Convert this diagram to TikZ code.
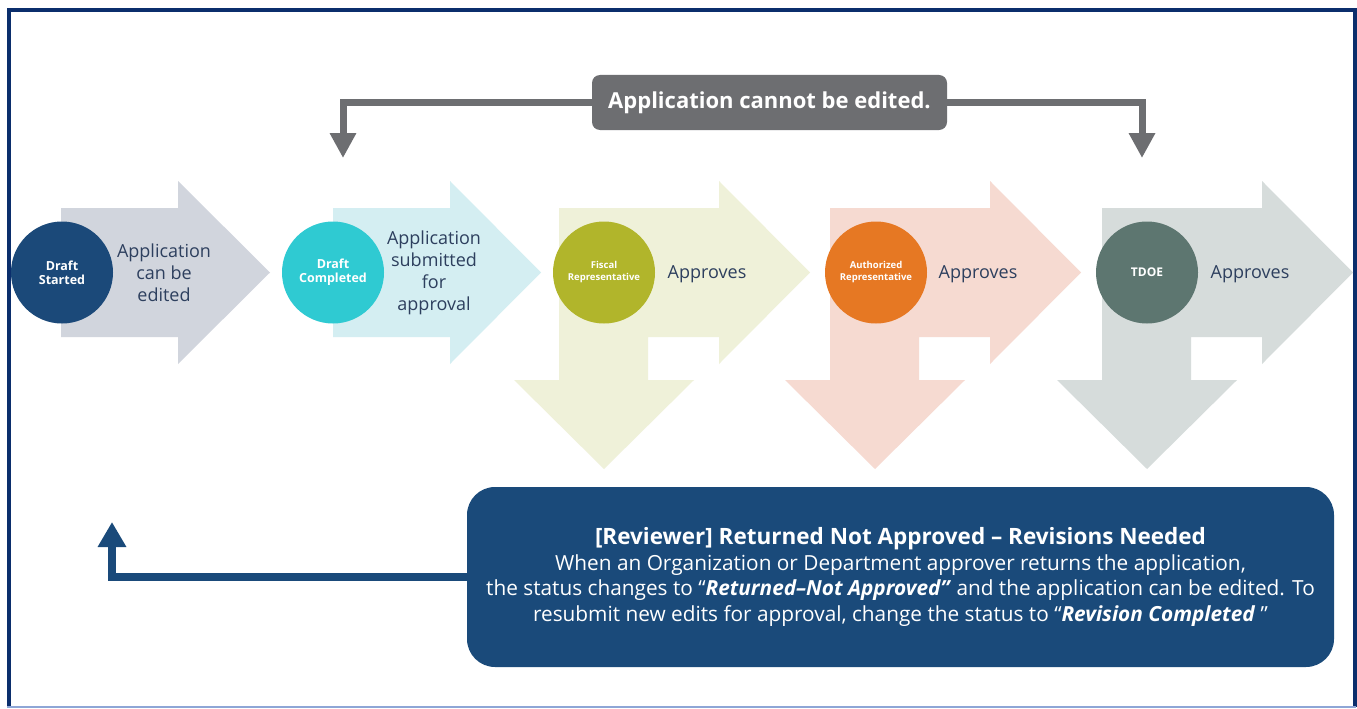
\documentclass[tikz,border=0pt]{standalone}
\usepackage{fontspec}
\setmainfont{Open Sans}
\usetikzlibrary{arrows.meta}
\definecolor{framec}{HTML}{0B2E6C}
\definecolor{framelight}{HTML}{8EA6D6}
\definecolor{navyb}{HTML}{1A4A7A}
\definecolor{labelc}{HTML}{2D3F5E}
\definecolor{greyc}{HTML}{6D6E71}
\definecolor{aone}{HTML}{D1D5DD}
\definecolor{cone}{HTML}{1B4979}
\definecolor{atwo}{HTML}{D4EEF2}
\definecolor{ctwo}{HTML}{2FCAD2}
\definecolor{athree}{HTML}{EFF1D9}
\definecolor{cthree}{HTML}{B1B52B}
\definecolor{afour}{HTML}{F6DAD1}
\definecolor{cfour}{HTML}{E67823}
\definecolor{afive}{HTML}{D6DCDB}
\definecolor{cfive}{HTML}{5D7670}
\begin{document}
\begin{tikzpicture}[x=1pt,y=-1pt,
  circ/.style={circle, minimum size=102pt, inner sep=0pt, text=white, align=center, font=\bfseries\fontsize{12.5}{14}\selectfont},
  smallcirc/.style={circ, font=\bfseries\fontsize{9.5}{12}\selectfont},
  lbl/.style={text=labelc, align=center, font=\fontsize{18}{22}\selectfont},
  gline/.style={draw=greyc, line width=7pt, -{Triangle[width=25pt,length=25pt]}},
  bline/.style={draw=navyb, line width=8pt, -{Triangle[width=27pt,length=25pt]}}]
\path[use as bounding box] (0,0) rectangle (1357,709);
\fill[white] (0,0) rectangle (1357,709);
% frame
\draw[framec, line width=4pt] (8.5,707) -- (8.5,10) -- (1354.5,10) -- (1354.5,707);
\draw[framelight, line width=2pt] (7,707) -- (1356,707);

% plain arrows
\fill[aone] (61,208) -- (178,208) -- (178,181) -- (270,272.5) -- (178,364) -- (178,337) -- (61,337) -- cycle;
\fill[atwo] (333,208) -- (450,208) -- (450,181) -- (541,272.5) -- (450,364) -- (450,337) -- (333,337) -- cycle;
% branching arrows
\fill[athree] (559,208) -- (719,208) -- (719,181) -- (810,272.5) -- (719,364) -- (719,337) -- (648,337) -- (648,380) -- (694,380) -- (604,469) -- (514,380) -- (559,380) -- cycle;
\begin{scope}[xshift=271pt]
\fill[afour] (559,208) -- (719,208) -- (719,181) -- (810,272.5) -- (719,364) -- (719,337) -- (648,337) -- (648,380) -- (694,380) -- (604,469) -- (514,380) -- (559,380) -- cycle;
\end{scope}
\begin{scope}[xshift=543pt]
\fill[afive] (559,208) -- (719,208) -- (719,181) -- (810,272.5) -- (719,364) -- (719,337) -- (648,337) -- (648,380) -- (694,380) -- (604,469) -- (514,380) -- (559,380) -- cycle;
\end{scope}

% circles
\node[circ, fill=cone] (c1) at (62,272.5) {Draft\\Started};
\node[circ, fill=ctwo] (c2) at (333,272.5) {Draft\\Completed};
\node[smallcirc, fill=cthree] (c3) at (604,272.5) {Fiscal\\Representative};
\node[smallcirc, fill=cfour] (c4) at (876,272.5) {Authorized\\Representative};
\node[circ, fill=cfive, font=\bfseries\fontsize{12}{14}\selectfont] (c5) at (1147,272.5) {TDOE};

% labels
\node[lbl] (l1) at (164,272.5) {Application\\can be\\edited};
\node[lbl] (l2) at (434,272.5) {Application\\submitted\\for\\approval};
\node[lbl] (l3) at (707,274) {Approves};
\node[lbl] (l4) at (978,274) {Approves};
\node[lbl] (l5) at (1250,274) {Approves};

% top grey box and connectors
\node[fill=greyc, rounded corners=8pt, minimum width=355pt, minimum height=55pt, inner sep=0pt, text=white, font=\bfseries\fontsize{22}{26}\selectfont] (gbox) at (769.5,102.5) {Application cannot be edited.};
\coordinate (tl) at (343,158);
\coordinate (tr) at (1142,158);
\draw[gline] (gbox.west) -| (tl);
\draw[gline] (gbox.east) -| (tr);

% bottom box
\node[fill=navyb, rounded corners=28pt, minimum width=867pt, minimum height=180pt, inner sep=0pt, text=white, align=center, font=\fontsize{20.8}{25.5}\selectfont] (rbox) at (900.5,577)
{{\bfseries\fontsize{22.5}{25.5}\selectfont [Reviewer] Returned Not Approved -- Revisions Needed}\\
When an Organization or Department approver returns the application,\\
the status changes to “\textbf{\textit{Returned–Not Approved”}} and the application can be edited. To\\
resubmit new edits for approval, change the status to “\textbf{\textit{Revision Completed}} ”};
\coordinate (rt) at (112,522);
\draw[bline] (rbox.west) -| (rt);
\end{tikzpicture}
\end{document}
